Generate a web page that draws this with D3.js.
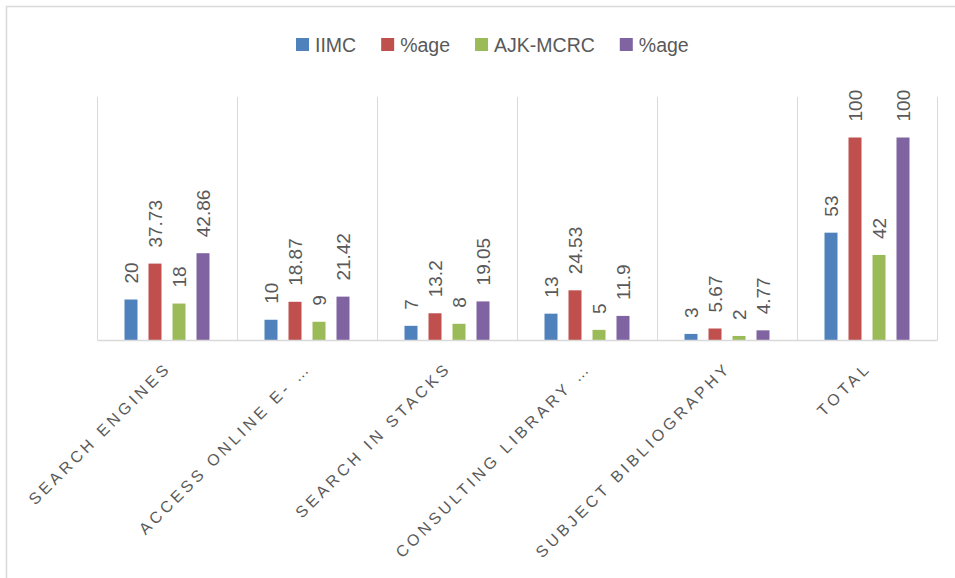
<!DOCTYPE html>
<html>
<head>
<meta charset="utf-8">
<script src="https://cdn.jsdelivr.net/npm/d3@7"></script>
<style>
  body { margin: 0; background: #fff; }
  svg { display: block; font-family: "Liberation Sans", Arial, sans-serif; }
</style>
</head>
<body>
<div id="container"></div>
<script>
// categories and series
const categories = ["SEARCH ENGINES", "ACCESS ONLINE E- …", "SEARCH IN STACKS", "CONSULTING LIBRARY …", "SUBJECT BIBLIOGRAPHY", "TOTAL"];
const seriesNames = ["IIMC", "%age", "AJK-MCRC", "%age"];
const iimc = [20, 10, 7, 13, 3, 53];
const iimcPct = [37.73, 18.87, 13.2, 24.53, 5.67, 100];
const ajk = [18, 9, 8, 5, 2, 42];
const ajkPct = [42.86, 21.42, 19.05, 11.9, 4.77, 100];
const colors = ["#4F81BD", "#C0504D", "#9BBB59", "#8064A2"];

const width = 955, height = 578;
const plot = {left: 97, right: 937, top: 97, bottom: 340};

const series = [iimc, iimcPct, ajk, ajkPct];

const svg = d3.select("#container").append("svg")
  .attr("width", width)
  .attr("height", height);

// chart border (runs off the right/bottom edge like the original)
svg.append("rect")
  .attr("x", 6.5).attr("y", 6.5)
  .attr("width", width + 20).attr("height", height + 20)
  .attr("fill", "none")
  .attr("stroke", "#d9d9d9")
  .attr("stroke-width", 1.5);

const x = d3.scaleBand()
  .domain(categories)
  .range([plot.left, plot.right])
  .padding(0);

// 13px bars on a 24px step inside each 140px category
const xInner = d3.scaleBand()
  .domain(d3.range(series.length))
  .range([0, x.bandwidth()])
  .paddingInner(11 / 24)
  .paddingOuter(1.146);

const y = d3.scaleLinear()
  .domain([0, 120])
  .range([plot.bottom, plot.top]);

// vertical category separators
const bounds = categories.map(c => x(c)).concat([x(categories[categories.length - 1]) + x.bandwidth()]);
svg.append("g")
  .selectAll("line")
  .data(bounds)
  .join("line")
  .attr("x1", d => d + 0.5).attr("x2", d => d + 0.5)
  .attr("y1", plot.top).attr("y2", plot.bottom)
  .attr("stroke", "#d9d9d9")
  .attr("stroke-width", 1);

// bars
const barData = [];
series.forEach((s, si) => s.forEach((v, ci) => barData.push({si, cat: categories[ci], v})));

svg.append("g")
  .selectAll("rect")
  .data(barData)
  .join("rect")
  .attr("x", d => x(d.cat) + xInner(d.si))
  .attr("y", d => y(d.v))
  .attr("width", xInner.bandwidth())
  .attr("height", d => y(0) - y(d.v))
  .attr("fill", d => colors[d.si]);

// data labels
svg.append("g")
  .attr("fill", "#595959")
  .attr("font-size", 19)
  .selectAll("text")
  .data(barData)
  .join("text")
  .attr("transform", d => `translate(${x(d.cat) + xInner(d.si) + xInner.bandwidth() / 2},${y(d.v) - 16}) rotate(-90)`)
  .attr("dy", "0.36em")
  .text(d => String(d.v));

// x axis
const xAxis = svg.append("g")
  .attr("transform", `translate(0,${plot.bottom})`)
  .call(d3.axisBottom(x).tickSize(0).tickPadding(0));

xAxis.select(".domain")
  .attr("stroke", "#d9d9d9")
  .attr("stroke-width", 1.5);

xAxis.selectAll(".tick text")
  .attr("fill", "#595959")
  .attr("font-family", "'Liberation Sans', Arial, sans-serif")
  .attr("font-size", 16)
  .attr("letter-spacing", "3.6px")
  .attr("text-anchor", "end")
  .attr("y", 0).attr("dy", 0)
  .attr("transform", "translate(5,29) rotate(-45)");

// legend
const legend = svg.append("g").attr("transform", "translate(296,0)");
let lx = 0;
seriesNames.forEach((name, i) => {
  const g = legend.append("g").attr("transform", `translate(${lx},0)`);
  g.append("rect")
    .attr("x", 0).attr("y", 38)
    .attr("width", 13).attr("height", 13)
    .attr("fill", colors[i]);
  const t = g.append("text")
    .attr("x", 19).attr("y", 52)
    .attr("fill", "#595959")
    .attr("font-size", 19.5)
    .text(name);
  lx += 19 + t.node().getComputedTextLength() + 25;
});
</script>
</body>
</html>
